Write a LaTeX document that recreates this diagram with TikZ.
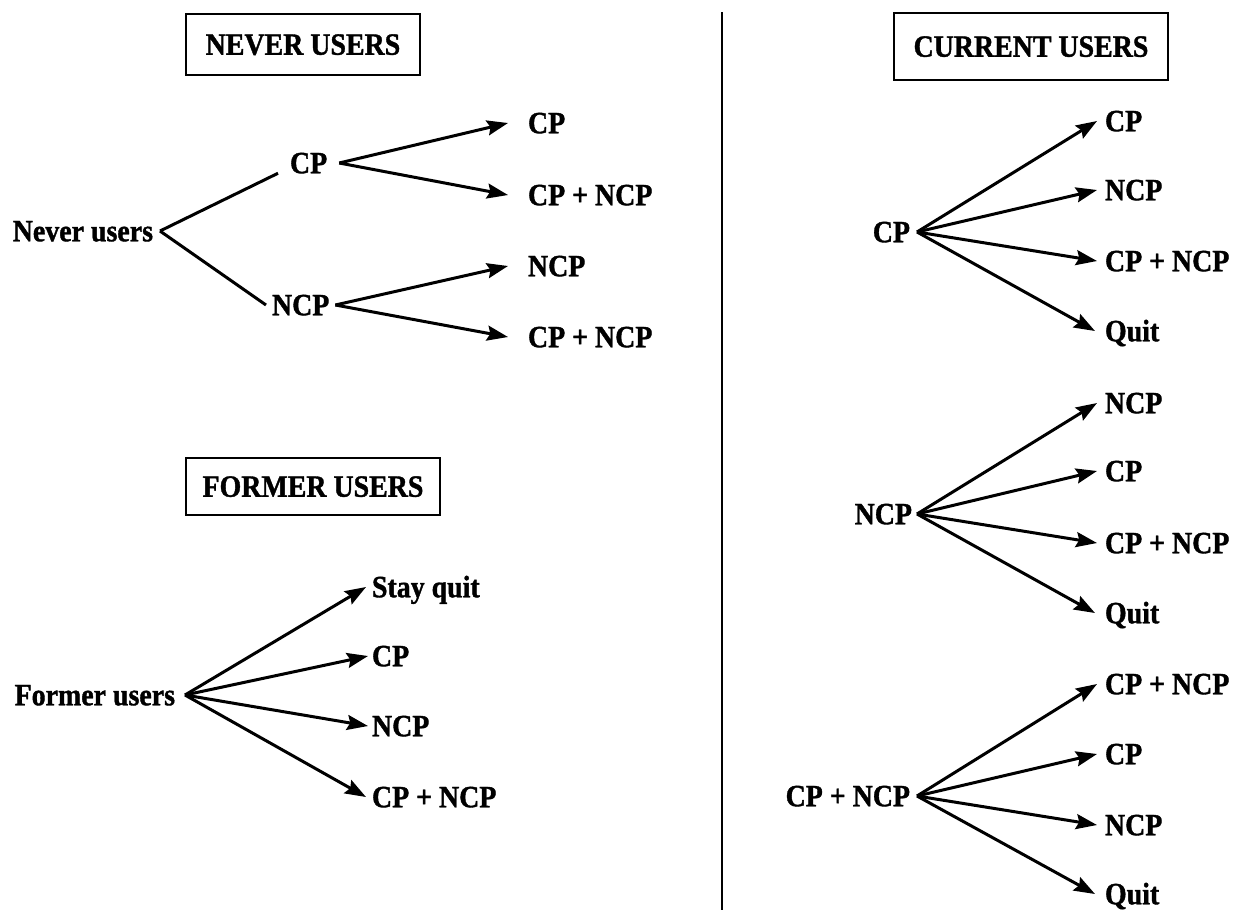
\documentclass[tikz,border=0pt]{standalone}
\usepackage{fontspec}
\setmainfont{Liberation Serif}[FakeStretch=0.9,FakeBold=1.2]
\usetikzlibrary{arrows.meta}
\begin{document}
\begin{tikzpicture}[x=1pt,y=-1pt,
  every node/.style={font=\fontsize{31}{33}\selectfont\bfseries, inner ysep=0pt, outer sep=0pt, text height=20.5pt, text depth=0pt},
  root/.style={anchor=east, inner xsep=#1},
  leaf/.style={anchor=west, inner xsep=#1},
  mid/.style={anchor=west, inner xsep=#1},
  title/.style={draw, line width=1.8pt, inner xsep=0pt},
  br/.style={line width=3pt},
  arr/.style={line width=3pt, -{Stealth[length=21pt,width=15pt,inset=3pt]}}
]
\useasboundingbox (0,0) rectangle (1234,911);

% ---------- NEVER USERS ----------
\node[title, minimum width=234pt, minimum height=61pt] (tn) at (303,44.5) {NEVER USERS};
\node[root=7pt] (nu) at (160,231) {Never users};
\node[mid=12pt] (n1) at (278,163) {CP};
\node[mid=6pt] (n2) at (266,305) {NCP};
\node[leaf=20pt] (n11) at (508,123) {CP};
\node[leaf=20pt] (n12) at (508,195) {CP + NCP};
\node[leaf=20pt] (n21) at (508,266) {NCP};
\node[leaf=20pt] (n22) at (508,337) {CP + NCP};
\draw[br] (nu.east) -- (n1.south west);
\draw[br] (nu.east) -- (n2.west);
\draw[arr] (n1.east) -- (n11.west);
\draw[arr] (n1.east) -- (n12.west);
\draw[arr] (n2.east) -- (n21.west);
\draw[arr] (n2.east) -- (n22.west);

% ---------- FORMER USERS ----------
\node[title, minimum width=254pt, minimum height=57pt] (tf) at (313,486.5) {FORMER USERS};
\node[root=10pt] (fu) at (185,695) {Former users};
\node[leaf=6pt] (f1) at (366,587) {Stay quit};
\node[leaf=4pt] (f2) at (368,656) {CP};
\node[leaf=4pt] (f3) at (368,726) {NCP};
\node[leaf=6pt] (f4) at (366,797) {CP + NCP};
\foreach \t in {f1,f2,f3,f4} \draw[arr] (fu.east) -- (\t.west);

% ---------- divider ----------
\draw[line width=2pt] (722,12) -- (722,910);

% ---------- CURRENT USERS ----------
\node[title, minimum width=274pt, minimum height=67pt] (tc) at (1031,46.5) {CURRENT USERS};

\node[root=7pt] (c1) at (917,232) {CP};
\node[leaf=8pt] (c11) at (1097,121) {CP};
\node[leaf=8pt] (c12) at (1097,190) {NCP};
\node[leaf=8pt] (c13) at (1097,261) {CP + NCP};
\node[leaf=10pt] (c14) at (1095,331) {Quit};
\foreach \t in {c11,c12,c13,c14} \draw[arr] (c1.east) -- (\t.west);

\node[root=5pt] (c2) at (917,514) {NCP};
\node[leaf=8pt] (c21) at (1097,403) {NCP};
\node[leaf=8pt] (c22) at (1097,471) {CP};
\node[leaf=8pt] (c23) at (1097,543) {CP + NCP};
\node[leaf=10pt] (c24) at (1095,613) {Quit};
\foreach \t in {c21,c22,c23,c24} \draw[arr] (c2.east) -- (\t.west);

\node[root=7pt] (c3) at (917,796) {CP + NCP};
\node[leaf=8pt] (c31) at (1097,684) {CP + NCP};
\node[leaf=8pt] (c32) at (1097,754) {CP};
\node[leaf=8pt] (c33) at (1097,825) {NCP};
\node[leaf=10pt] (c34) at (1095,894) {Quit};
\foreach \t in {c31,c32,c33,c34} \draw[arr] (c3.east) -- (\t.west);
\end{tikzpicture}
\end{document}
